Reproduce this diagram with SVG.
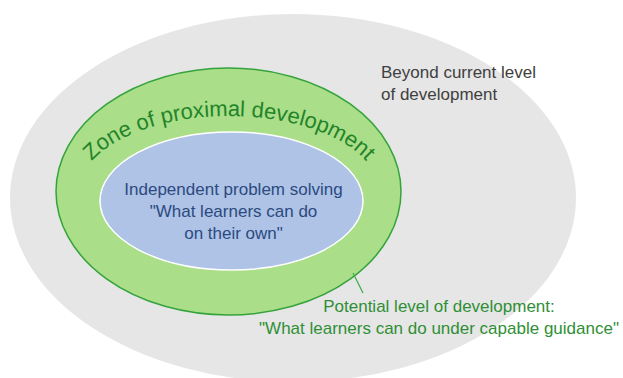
<svg xmlns="http://www.w3.org/2000/svg" width="623" height="378" viewBox="0 0 623 378">
  <style>
    text { font-family: "Liberation Sans", Arial, sans-serif; font-size: 17px; }
    .outer-label { fill: #404040; }
    .zpd-title { fill: #23842a; font-size: 22px; }
    .inner-label { fill: #2c4a80; text-anchor: middle; }
    .potential-label { fill: #2f8f36; text-anchor: middle; }
    .leader { stroke: #3fae45; stroke-width: 1.2; fill: none; }
  </style>
  <defs>
    <!-- upper arc that carries the zone title -->
    <path id="zpd-arc" d="M 79 192 A 150 76 0 0 1 379 192"/>
  </defs>
  <rect width="623" height="378" fill="#ffffff"/>

  <g id="beyond-current">
    <ellipse cx="293" cy="198" rx="283" ry="184" fill="#e6e6e6"/>
    <text class="outer-label" x="381" y="78">Beyond current level</text>
    <text class="outer-label" x="381" y="100">of development</text>
  </g>

  <g id="zone-of-proximal-development">
    <ellipse cx="228.5" cy="191.5" rx="172.5" ry="123.5" fill="#aade88" stroke="#34a33b" stroke-width="1.5"/>
    <text class="zpd-title"><textPath href="#zpd-arc" startOffset="50%" text-anchor="middle">Zone of proximal development</textPath></text>
  </g>

  <g id="independent-problem-solving">
    <ellipse cx="231.5" cy="201" rx="131.5" ry="69" fill="#aec3e6" stroke="#ffffff" stroke-width="1.5"/>
    <text class="inner-label" x="233.5" y="195">Independent problem solving</text>
    <text class="inner-label" x="233.5" y="217">"What learners can do</text>
    <text class="inner-label" x="233.5" y="239">on their own"</text>
  </g>

  <g id="connectors">
    <line class="leader" x1="353" y1="273" x2="363" y2="293"/>
  </g>

  <g id="potential-level">
    <text class="potential-label" x="439" y="312">Potential level of development:</text>
    <text class="potential-label" x="439" y="334">"What learners can do under capable guidance"</text>
  </g>
</svg>
